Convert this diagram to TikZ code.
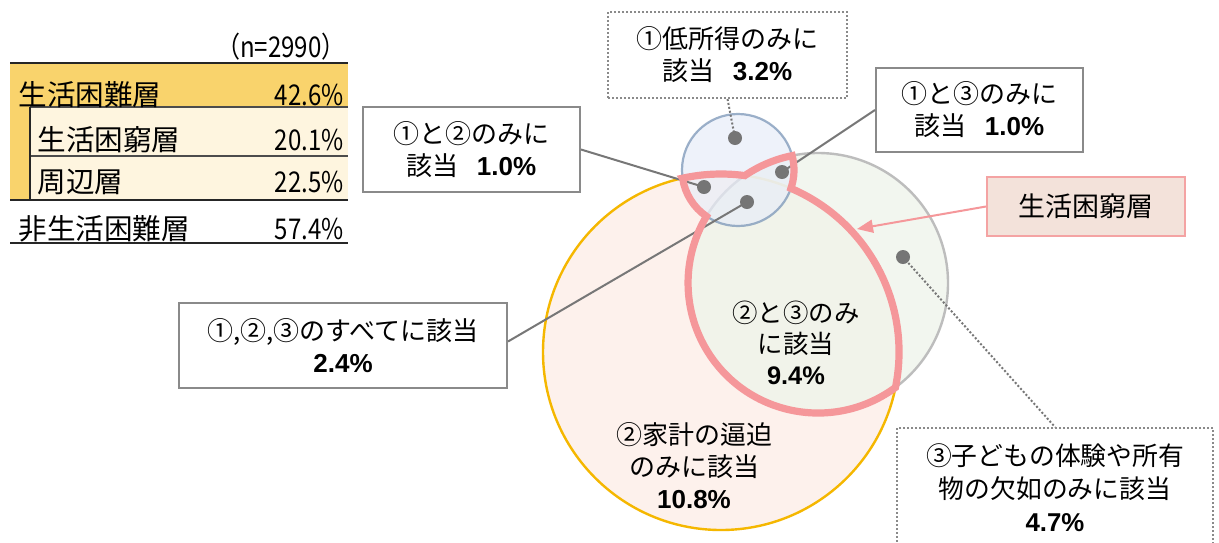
\documentclass[tikz,border=0pt]{standalone}
\usepackage{fontspec}
\newfontfamily\jp{Noto Sans CJK JP}
\newfontfamily\tabnum[FakeStretch=0.84]{Noto Sans CJK JP}
\newfontfamily\numf{Liberation Sans}
\usetikzlibrary{arrows.meta}
\definecolor{cOneFill}{HTML}{E8EDF8}
\definecolor{cOneLine}{HTML}{7C97B8}
\definecolor{cTwoFill}{HTML}{FDF1EC}
\definecolor{cTwoLine}{HTML}{F5B700}
\definecolor{cThreeFill}{HTML}{EEF4EA}
\definecolor{cThreeLine}{HTML}{BDBDBD}
\definecolor{pinkLine}{HTML}{F5979A}
\definecolor{pinkBoxFill}{HTML}{F3E2DA}
\definecolor{pinkBoxLine}{HTML}{F4A3A3}
\definecolor{connGray}{HTML}{777777}
\definecolor{dotGray}{HTML}{757575}
\definecolor{boxLine}{HTML}{8A8A8A}
\definecolor{gold}{HTML}{F9D36C}
\definecolor{cream}{HTML}{FEF5DF}
\begin{document}
\begin{tikzpicture}[x=0.5pt,y=-0.5pt,
  txt/.style={font=\jp\fontsize{13}{16}\selectfont, align=center, inner sep=0pt},
  solidbox/.style={draw=boxLine, line width=1pt, fill=white, align=center, inner sep=0pt,
    font=\jp\fontsize{13}{16}\selectfont},
  dotbox/.style={draw=boxLine, line width=1pt, dash pattern=on 1pt off 1pt, fill=white, align=center,
    inner sep=0pt, font=\jp\fontsize{13}{16}\selectfont},
  dotmark/.style={circle, fill=dotGray, minimum size=7pt, inner sep=0pt},
  conn/.style={draw=connGray, line width=1pt},
  dotconn/.style={draw=connGray, line width=1pt, dash pattern=on 1pt off 1pt},
  tab/.style={font=\jp\fontsize{14.3}{17}\selectfont, inner sep=0pt},
  tabv/.style={font=\tabnum\fontsize{14.3}{17}\selectfont, inner sep=0pt},
  thickrule/.style={line width=1.4pt, draw=black!85},
  thinrule/.style={line width=0.7pt, draw=black!70}]
\useasboundingbox (0,0) rectangle (1219,542);
\fill[white] (0,0) rectangle (1219,542);

% ---------- table ----------
\fill[gold] (10,63) rectangle (348,107);
\fill[cream] (30,107) rectangle (348,200);
\fill[gold] (10,107) rectangle (30,200);
\draw[thickrule] (10,63) -- (348,63);
\draw[thinrule] (30,107) -- (348,107);
\draw[thinrule] (30,156) -- (348,156);
\draw[thickrule] (30,107) -- (30,200);
\draw[thickrule] (10,200) -- (348,200);
\draw[thickrule] (10,243) -- (348,243);
\node[tabv, anchor=east] (tn) at (346,47) {（n=2990）};
\node[tab, anchor=west] (t1) at (18,95) {生活困難層};
\node[tabv, anchor=east] (v1) at (344,95) {42.6\%};
\node[tab, anchor=west] (t2) at (37,140) {生活困窮層};
\node[tabv, anchor=east] (v2) at (344,140) {20.1\%};
\node[tab, anchor=west] (t3) at (37,182) {周辺層};
\node[tabv, anchor=east] (v3) at (344,182) {22.5\%};
\node[tab, anchor=west] (t4) at (18,229) {非生活困難層};
\node[tabv, anchor=east] (v4) at (344,229) {57.4\%};

% ---------- circles ----------
\fill[cTwoFill] (721,352) circle[radius=178];
\draw[cTwoLine, line width=1.2pt] (721,352) circle[radius=178];
\fill[cThreeFill, fill opacity=0.75] (818,283) circle[radius=130];
\draw[cThreeLine, line width=1.2pt] (818,283) circle[radius=130];
\fill[cOneFill, fill opacity=0.7] (738,170) circle[radius=56];
\draw[cOneLine, line width=1.1pt, draw opacity=0.75] (738,170) circle[radius=56];

% ---------- boxes ----------
\node[dotbox, minimum width=119.5pt, minimum height=43pt] (b1) at (727.5,55)
  {①低所得のみに\\該当\hspace{0.7em}{\numf\bfseries 3.2\%}};
\node[solidbox, minimum width=108.5pt, minimum height=42.5pt] (b2) at (471.5,149.5)
  {\fontsize{13}{17}\selectfont ①と②のみに\\該当\hspace{0.7em}{\numf\bfseries 1.0\%}};
\node[solidbox, minimum width=103.5pt, minimum height=42pt] (b3) at (979.5,110)
  {①と③のみに\\該当\hspace{0.7em}{\numf\bfseries 1.0\%}};
\node[draw=pinkBoxLine, fill=pinkBoxFill, line width=1pt, minimum width=99pt, minimum height=29.5pt,
  inner sep=0pt, font=\jp\fontsize{13.5}{16}\selectfont] (bp) at (1086,206.5) {生活困窮層};
\node[solidbox, minimum width=164pt, minimum height=42.5pt] (b5) at (343,345.5)
  {\fontsize{13}{14}\selectfont ①,②,③のすべてに該当\\{\numf\bfseries 2.4\%}};
\node[dotbox, minimum width=158pt, minimum height=62pt, anchor=north] (b6) at (1055,427) {};
\node[txt, font=\jp\fontsize{12.9}{16.5}\selectfont] (b6t) at (1055,488)
  {③子どもの体験や所有\\物の欠如のみに該当\\{\numf\bfseries 4.7\%}};

% ---------- dots ----------
\coordinate (d1) at (735,138);
\coordinate (d12) at (704,187);
\coordinate (d13) at (782,172);
\coordinate (d123) at (747,202);
\coordinate (d3) at (903,257);
\coordinate (tgt) at (857,229);

% ---------- connectors ----------
\draw[dotconn] (b1.south) -- (d1);
\draw[conn] (b2.east) -- (d12);
\draw[conn] (b3.west) -- (d13);
\draw[conn] ([yshift=2pt]b5.east) -- (d123);
\draw[dotconn] (d3) -- (b6.north);

% ---------- pink outline (生活困窮層) ----------
\draw[pinkLine, line width=3.6pt, line join=miter, miter limit=3]
  (682.6,178.2) arc[start angle=-102.46, end angle=-82.32, radius=178]
  arc[start angle=-124.28, end angle=-101.49, radius=130]
  arc[start angle=-14.9, end angle=19.1, radius=56]
  arc[start angle=-66.88, end angle=11.47, radius=178]
  arc[start angle=53.45, end angle=210.87, radius=130]
  arc[start angle=124.31, end angle=171.6, radius=56] -- cycle;
\draw[pinkLine, line width=1pt, -{Triangle[length=8pt,width=6.5pt]}] (bp.west) -- (tgt);

\node[dotmark] (m1) at (d1) {};
\node[dotmark] (m12) at (d12) {};
\node[dotmark] (m13) at (d13) {};
\node[dotmark] (m123) at (d123) {};
\node[dotmark] (m3) at (d3) {};

% ---------- circle labels ----------
\node[txt, font=\jp\fontsize{12.7}{15.5}\selectfont] (l23) at (796,343)
  {②と③のみ\\に該当\\{\numf\bfseries 9.4\%}};
\node[txt, font=\jp\fontsize{13}{16}\selectfont] (l2) at (694,466)
  {②家計の逼迫\\のみに該当\\{\numf\bfseries 10.8\%}};
\end{tikzpicture}
\end{document}
